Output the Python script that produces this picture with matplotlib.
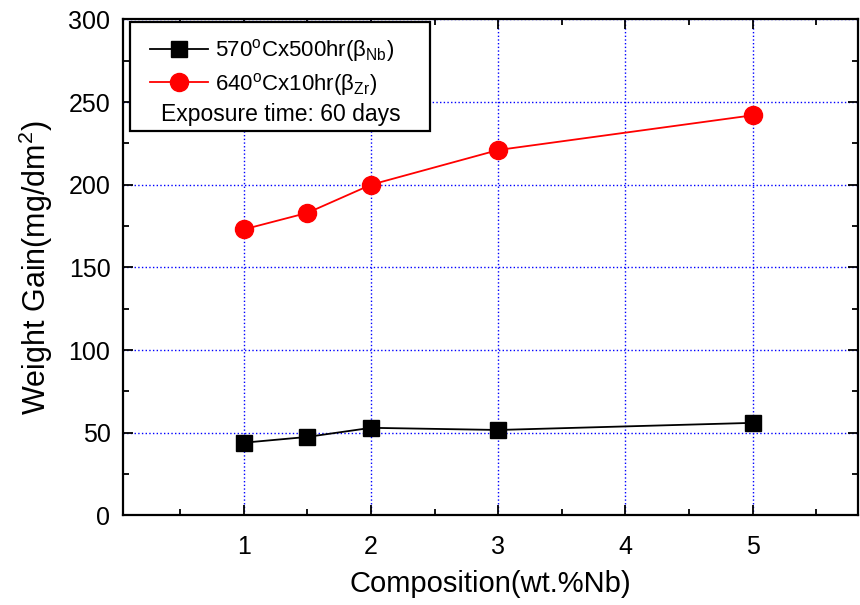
import numpy as np
import matplotlib.pyplot as plt
from matplotlib.patches import Rectangle

plt.rcParams['font.family'] = ['Liberation Sans', 'DejaVu Sans']
plt.rcParams['mathtext.fontset'] = 'custom'
plt.rcParams['mathtext.rm'] = 'Liberation Sans'
plt.rcParams['mathtext.it'] = 'Liberation Sans:italic'

# data
comp = [1, 1.5, 2, 3, 5]
gain_nb = [44, 47.5, 53, 51.7, 56]
gain_zr = [173, 183, 200, 221, 242]

lab_nb = '570$^{\\rm o}$Cx500hr(β$_{\\rm Nb}$)'
lab_zr = '640$^{\\rm o}$Cx10hr(β$_{\\rm Zr}$)'

fig = plt.figure(figsize=(8.6, 6.05), dpi=100)
ax = fig.add_axes([0.143, 0.148, 0.855, 0.820])

ax.plot(comp, gain_nb, 'k-', marker='s', ms=12, lw=1.3, label=lab_nb)
ax.plot(comp, gain_zr, 'r-', marker='o', ms=13, lw=1.3, label=lab_zr)

ax.set_xlim(0.05, 5.83)
ax.set_ylim(0, 300)
ax.set_xticks([1, 2, 3, 4, 5])
ax.set_xticks(np.arange(0.5, 5.8, 0.5), minor=True)
ax.set_yticks(np.arange(0, 301, 50))
ax.set_yticks(np.arange(25, 300, 50), minor=True)
ax.grid(True, which='major', color='blue', linestyle=':', lw=1)
ax.tick_params(which='both', direction='in', top=True, right=True, labelsize=18, width=1.3)
ax.tick_params(which='major', length=7)
ax.tick_params(which='minor', length=4)
ax.tick_params(axis='x', pad=14)
ax.tick_params(axis='y', pad=9)
for s in ax.spines.values():
    s.set_linewidth(1.6)

ax.set_xlabel('Composition(wt.%Nb)', fontsize=21, labelpad=8)
ax.set_ylabel('Weight Gain(mg/dm$^2$)', fontsize=22, labelpad=10)

leg = ax.legend(loc='upper left', bbox_to_anchor=(0.01, 1.005), frameon=False,
                fontsize=16, handlelength=2.6, handletextpad=0.3, labelspacing=0.3,
                borderpad=0.4)
ax.text(0.214, 0.808, 'Exposure time: 60 days', transform=ax.transAxes,
        fontsize=16.5, ha='center', va='center')
ax.add_patch(Rectangle((0.0095, 0.775), 0.4085, 0.22, transform=ax.transAxes,
                       fill=True, facecolor='white', edgecolor='black', lw=1.6, zorder=2.5))
leg.set_zorder(3)

fig.savefig('out.png', dpi=100)
